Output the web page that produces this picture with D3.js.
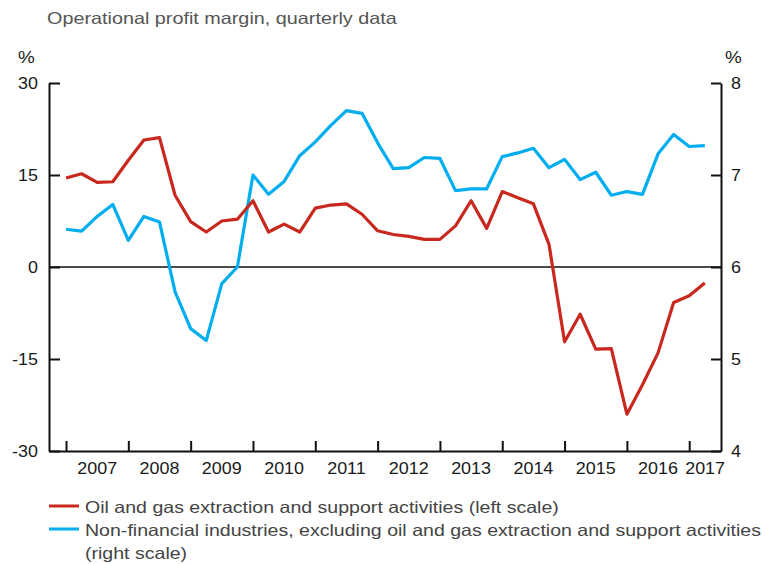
<!DOCTYPE html>
<meta charset="utf-8">
<script src="https://d3js.org/d3.v7.min.js"></script>
<style>
  body { margin: 0; background: #fff; }
  text { font-family: "Liberation Sans", Arial, Helvetica, sans-serif; }
</style>
<svg id="chart" width="765" height="564"></svg>
<script>

// quarterly observations, 2007 Q1 - 2017 Q2
var quarters = [
  "2007Q1","2007Q2","2007Q3","2007Q4","2008Q1","2008Q2","2008Q3","2008Q4",
  "2009Q1","2009Q2","2009Q3","2009Q4","2010Q1","2010Q2","2010Q3","2010Q4",
  "2011Q1","2011Q2","2011Q3","2011Q4","2012Q1","2012Q2","2012Q3","2012Q4",
  "2013Q1","2013Q2","2013Q3","2013Q4","2014Q1","2014Q2","2014Q3","2014Q4",
  "2015Q1","2015Q2","2015Q3","2015Q4","2016Q1","2016Q2","2016Q3","2016Q4",
  "2017Q1","2017Q2"
];

// oil and gas extraction, left scale (%)
var oilGas = [
  14.5, 15.2, 13.8, 13.9, 17.4, 20.7, 21.1, 11.7, 7.4, 5.7, 7.5, 7.8,
  10.8, 5.7, 7.0, 5.7, 9.6, 10.1, 10.3, 8.6, 5.9, 5.3, 5.0, 4.5,
  4.5, 6.7, 10.8, 6.3, 12.3, 11.3, 10.3, 3.7, -12.2, -7.7, -13.4, -13.3,
  -24.0, -19.2, -14.0, -5.8, -4.7, -2.6
];

// non-financial industries excl. oil and gas, right scale (%)
var nonFinancial = [
  6.41, 6.39, 6.55, 6.68, 6.29, 6.55, 6.49, 5.73, 5.33, 5.20, 5.82, 6.00,
  7.00, 6.79, 6.93, 7.21, 7.36, 7.54, 7.70, 7.67, 7.35, 7.07, 7.08, 7.19,
  7.18, 6.83, 6.85, 6.85, 7.20, 7.24, 7.29, 7.08, 7.17, 6.95, 7.03, 6.78,
  6.82, 6.79, 7.23, 7.44, 7.31, 7.32
];

var leftTicks = [-30, -15, 0, 15, 30];
var rightTicks = [4, 5, 6, 7, 8];
var yearTicks = [2007, 2008, 2009, 2010, 2011, 2012, 2013, 2014, 2015, 2016, 2017];
var yearLabels = ["2007", "2008", "2009", "2010", "2011", "2012", "2013", "2014", "2015", "2016", "2017"];

var legendItems = [
  { color: "#c8281e", lines: ["Oil and gas extraction and support activities (left scale)"] },
  { color: "#00aeef", lines: ["Non-financial industries, excluding oil and gas extraction and support activities", "(right scale)"] }
];

var red = "#c8281e", blue = "#00aeef";

var svg = d3.select("#chart");

// plot area (avoid the name "top", it is window.top)
var pLeft = 49, pRight = 721, pTop = 83, pBottom = 451;

var x = d3.scaleLinear()
  .domain([2006.727, 2017.51])
  .range([pLeft, pRight]);

var yL = d3.scaleLinear().domain([-30, 30]).range([pBottom, pTop]);
var yR = d3.scaleLinear().domain([4, 8]).range([pBottom, pTop]);

function qx(q) {
  var yr = +q.slice(0, 4), n = +q.slice(5);
  return yr + (n - 1) / 4;
}

// plain hyphen minus, like the source
var plain = function(d) { return String(d); };

// the source font is wider than Liberation Sans: stretch glyphs a bit
function stretch(sel, k) {
  sel.each(function() {
    var w = this.getComputedTextLength();
    d3.select(this).attr("textLength", w * k).attr("lengthAdjust", "spacingAndGlyphs");
  });
}

// subtitle
svg.append("text")
  .attr("x", 47).attr("y", 24)
  .attr("font-size", 16.5)
  .attr("fill", "#555")
  .text("Operational profit margin, quarterly data")
  .call(stretch, 349 / 291);

// % units
svg.append("text").attr("x", 18).attr("y", 63).attr("font-size", 16).attr("fill", "#1a1a1a").text("%").call(stretch, 1.18);
svg.append("text").attr("x", 725).attr("y", 63).attr("font-size", 16).attr("fill", "#1a1a1a").text("%").call(stretch, 1.18);

// zero line
svg.append("line")
  .attr("x1", pLeft).attr("x2", pRight)
  .attr("y1", yL(0)).attr("y2", yL(0))
  .attr("stroke", "#111").attr("stroke-width", 1.6);

// axes
var axL = svg.append("g")
  .attr("transform", "translate(" + pLeft + ",0)")
  .call(d3.axisLeft(yL).tickValues(leftTicks).tickFormat(plain)
    .tickSizeInner(-11).tickSizeOuter(0).tickPadding(11));

var axR = svg.append("g")
  .attr("transform", "translate(" + pRight + ",0)")
  .call(d3.axisRight(yR).tickValues(rightTicks).tickFormat(plain)
    .tickSizeInner(-10).tickSizeOuter(0).tickPadding(10));

var axB = svg.append("g")
  .attr("transform", "translate(0," + pBottom + ")")
  .call(d3.axisBottom(x).tickValues(yearTicks).tickSizeInner(-10).tickSizeOuter(0).tickFormat(""));

[axL, axR, axB].forEach(function(a) {
  a.selectAll("path.domain").attr("stroke", "#111").attr("stroke-width", 2);
  a.selectAll(".tick line").attr("stroke", "#111").attr("stroke-width", 2);
  a.selectAll(".tick text").attr("font-size", 16).attr("fill", "#1a1a1a")
    .attr("font-family", "Liberation Sans, Arial, sans-serif")
    .call(stretch, 1.12);
});

// year labels, centred in each year
svg.append("g").selectAll("text")
  .data(yearLabels)
  .enter()
  .append("text")
    .attr("x", function(d, i) {
      var a = x(yearTicks[i]);
      var b = i < yearTicks.length - 1 ? x(yearTicks[i + 1]) : pRight;
      return (a + b) / 2;
    })
    .attr("y", 474)
    .attr("text-anchor", "middle")
    .attr("font-size", 16)
    .attr("fill", "#1a1a1a")
    .text(function(d) { return d; })
    .call(stretch, 1.12);

// series
var lineL = d3.line()
  .x(function(d, i) { return x(qx(quarters[i])); })
  .y(function(d) { return yL(d); });

var lineR = d3.line()
  .x(function(d, i) { return x(qx(quarters[i])); })
  .y(function(d) { return yR(d); });

svg.append("path")
  .datum(nonFinancial)
  .attr("d", lineR)
  .attr("fill", "none")
  .attr("stroke", blue)
  .attr("stroke-width", 3.2)
  .attr("stroke-linejoin", "round");

svg.append("path")
  .datum(oilGas)
  .attr("d", lineL)
  .attr("fill", "none")
  .attr("stroke", red)
  .attr("stroke-width", 3.2)
  .attr("stroke-linejoin", "round");

// legend
var lg = svg.append("g");
var ly = 513;
legendItems.forEach(function(item) {
  lg.append("line")
    .attr("x1", 49).attr("x2", 79)
    .attr("y1", ly - 7).attr("y2", ly - 7)
    .attr("stroke", item.color).attr("stroke-width", 3);
  item.lines.forEach(function(t) {
    lg.append("text")
      .attr("x", 85).attr("y", ly)
      .attr("font-size", 16.5)
      .attr("fill", "#444")
      .text(t)
      .call(stretch, 1.185);
    ly += 23;
  });
});

</script>
